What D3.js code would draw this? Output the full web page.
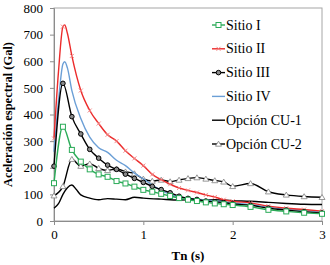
<!DOCTYPE html>
<html>
<head>
<meta charset="utf-8">
<script src="https://cdn.jsdelivr.net/npm/d3@7"></script>
<style>
  body { margin: 0; background: #fff; }
  svg { display: block; }
  svg text { font-family: "Liberation Serif", "Times New Roman", Times, "DejaVu Serif", serif; }
</style>
</head>
<body>
<div id="chart"></div>
<script>
// periods (s)
const tMain = [0, 0.1, 0.2, 0.3, 0.4, 0.5, 0.6, 0.7, 0.8, 0.9, 1.0, 1.1, 1.2, 1.3,
  1.4, 1.5, 1.6, 1.7, 1.8, 1.9, 2.0, 2.2, 2.4, 2.6, 2.8, 3.0];
const tFine = [0, 0.05, 0.1, 0.12, 0.15, 0.2, 0.3, 0.4, 0.5, 0.6, 0.7, 0.8, 0.9,
  1.0, 1.1, 1.2, 1.3, 1.4, 1.5, 1.6, 1.7, 1.8, 1.9, 2.0, 2.2, 2.4, 2.6, 2.8, 3.0];
const tCU1 = [0, 0.05, 0.1, 0.15, 0.2, 0.25, 0.3, 0.4, 0.5, 0.6, 0.7, 0.8, 0.9,
  1.0, 1.2, 1.4, 1.6, 1.8, 2.0, 2.2, 2.4, 2.6, 2.8, 3.0];

// spectral acceleration (Gal)
const sitioI = [142, 354, 267, 223, 194, 175, 166, 150, 141, 129, 117, 110, 102, 94,
  86, 80, 75, 70, 66, 63, 60, 53, 42, 36, 31, 27];
const sitioII = [310, 560, 730, 736, 705, 620, 490, 415, 366, 324, 300, 264, 235,
  208, 175, 155, 138, 124, 115, 107, 98, 90, 80, 74, 68, 56, 48, 43, 37];
const sitioIII = [206, 517, 392, 327, 269, 236, 210, 194, 176, 160, 145, 130, 118, 106,
  93, 85, 81, 75, 72, 69, 64, 59, 48, 41, 35, 30];
const sitioIV = [260, 450, 590, 598, 575, 490, 385, 315, 275, 258, 228, 208, 180,
  158, 135, 115, 100, 90, 86, 82, 79, 76, 72, 68, 62, 52, 45, 40, 34];
const cu1 = [48, 65, 100, 125, 135, 118, 98, 86, 80, 84, 82, 80, 89,
  86, 82, 79, 80, 80, 76, 74, 70, 66, 63, 62];
const cu2 = [95, 130, 232, 206, 215, 198, 190, 196, 185, 178, 158, 150, 154, 148,
  154, 160, 163, 158, 152, 147, 130, 141, 110, 98, 92, 89];

const xTicks = [0, 1, 2, 3];
const yTicks = [0, 100, 200, 300, 400, 500, 600, 700, 800];

const series = [
  {name: "Sitio I", t: tMain, v: sitioI, color: "#2bab58", marker: "square"},
  {name: "Sitio II", t: tFine, v: sitioII, color: "#ec2b2b", marker: "cross"},
  {name: "Sitio III", t: tMain, v: sitioIII, color: "#000", marker: "circle"},
  {name: "Sitio IV", t: tFine, v: sitioIV, color: "#6b9fd6", marker: null},
  {name: "Opción CU-1", t: tCU1, v: cu1, color: "#000", marker: null},
  {name: "Opción CU-2", t: tMain, v: cu2, color: "#000", marker: "triangle"}
];

const width = 330, height = 265;
const margin = {top: 8, right: 8, bottom: 44, left: 54};
const w = width - margin.left - margin.right;
const h = height - margin.top - margin.bottom;
const font = "Liberation Serif";

const svg = d3.select("#chart").append("svg")
    .attr("width", width)
    .attr("height", height);

const g = svg.append("g")
    .attr("transform", `translate(${margin.left},${margin.top})`);

const x = d3.scaleLinear().domain([0, 3]).range([0, w]);
const y = d3.scaleLinear().domain([0, 800]).range([h, 0]);

// frame
g.append("rect")
    .attr("x", 0).attr("y", 0)
    .attr("width", w).attr("height", h)
    .attr("fill", "none")
    .attr("stroke", "#a6a6a6")
    .attr("stroke-width", 1);

// axes
const xAxis = g.append("g")
    .attr("transform", `translate(0,${h})`)
    .call(d3.axisBottom(x).tickValues(xTicks).tickSize(4).tickPadding(5)
      .tickFormat(d3.format("d")));
const yAxis = g.append("g")
    .call(d3.axisLeft(y).tickValues(yTicks).tickSize(4).tickPadding(7));

[xAxis, yAxis].forEach(a => {
  a.attr("font-family", null);
  a.selectAll(".domain").attr("stroke", "#8c8c8c");
  a.selectAll(".tick line").attr("stroke", "#8c8c8c");
  a.selectAll(".tick text")
      .style("font-family", font)
      .attr("font-size", 13)
      .attr("fill", "#000");
});

// axis titles
g.append("text")
    .attr("x", w / 2)
    .attr("y", h + 39)
    .attr("text-anchor", "middle")
    .style("font-family", font)
    .attr("font-weight", "bold")
    .attr("font-size", 13)
    .text("Tn (s)");

g.append("text")
    .attr("transform", `translate(${-42},${h / 2}) rotate(-90)`)
    .attr("text-anchor", "middle")
    .style("font-family", font)
    .attr("font-weight", "bold")
    .attr("font-size", 12.5)
    .text("Aceleración espectral (Gal)");

// markers
function drawMarker(sel, s) {
  if (s.marker === "square") {
    sel.append("rect")
        .attr("x", -2.5).attr("y", -2.5).attr("width", 5).attr("height", 5)
        .attr("fill", "#fff").attr("stroke", s.color).attr("stroke-width", 1);
  } else if (s.marker === "circle") {
    sel.append("circle")
        .attr("r", 2.3)
        .attr("fill", "#8a8a8a").attr("stroke", "#000").attr("stroke-width", 1);
  } else if (s.marker === "triangle") {
    sel.append("path")
        .attr("d", "M0,-2.8L3,2.2L-3,2.2Z")
        .attr("fill", "#fff").attr("stroke", "#8c8c8c").attr("stroke-width", 0.9);
  } else if (s.marker === "cross") {
    sel.append("path")
        .attr("d", "M-2,-2L2,2M-2,2L2,-2")
        .attr("stroke", "#f08080").attr("stroke-width", 0.9);
  }
}

const line = d3.line()
    .x(d => x(d[0]))
    .y(d => y(d[1]))
    .curve(d3.curveMonotoneX);

// draw from back to front
const order = [5, 4, 3, 1, 2, 0];
order.forEach(i => {
  const s = series[i];
  const pts = s.t.map((t, j) => [t, s.v[j]]);
  g.append("path")
      .datum(pts)
      .attr("fill", "none")
      .attr("stroke", s.color)
      .attr("stroke-width", 1.4)
      .attr("d", line);
  if (s.marker) {
    const mpts = s.marker === "cross" ? pts.filter(p => tMain.includes(p[0])) : pts;
    g.selectAll(null)
        .data(mpts)
        .join("g")
        .attr("transform", d => `translate(${x(d[0])},${y(d[1])})`)
        .each(function() { drawMarker(d3.select(this), s); });
  }
});

// legend
const legend = g.append("g")
    .attr("transform", `translate(${158},${17})`)
    .selectAll("g")
    .data(series)
    .join("g")
    .attr("transform", (d, i) => `translate(0,${i * 23.8})`);

legend.append("line")
    .attr("x1", 0).attr("x2", 13)
    .attr("stroke", d => d.color)
    .attr("stroke-width", 1.4);

legend.append("g")
    .attr("transform", "translate(6.5,0)")
    .each(function(d) { drawMarker(d3.select(this), d); });

legend.append("text")
    .attr("x", 14)
    .attr("dominant-baseline", "central")
    .style("font-family", font)
    .attr("font-size", 14)
    .text(d => d.name);
</script>
</body>
</html>
